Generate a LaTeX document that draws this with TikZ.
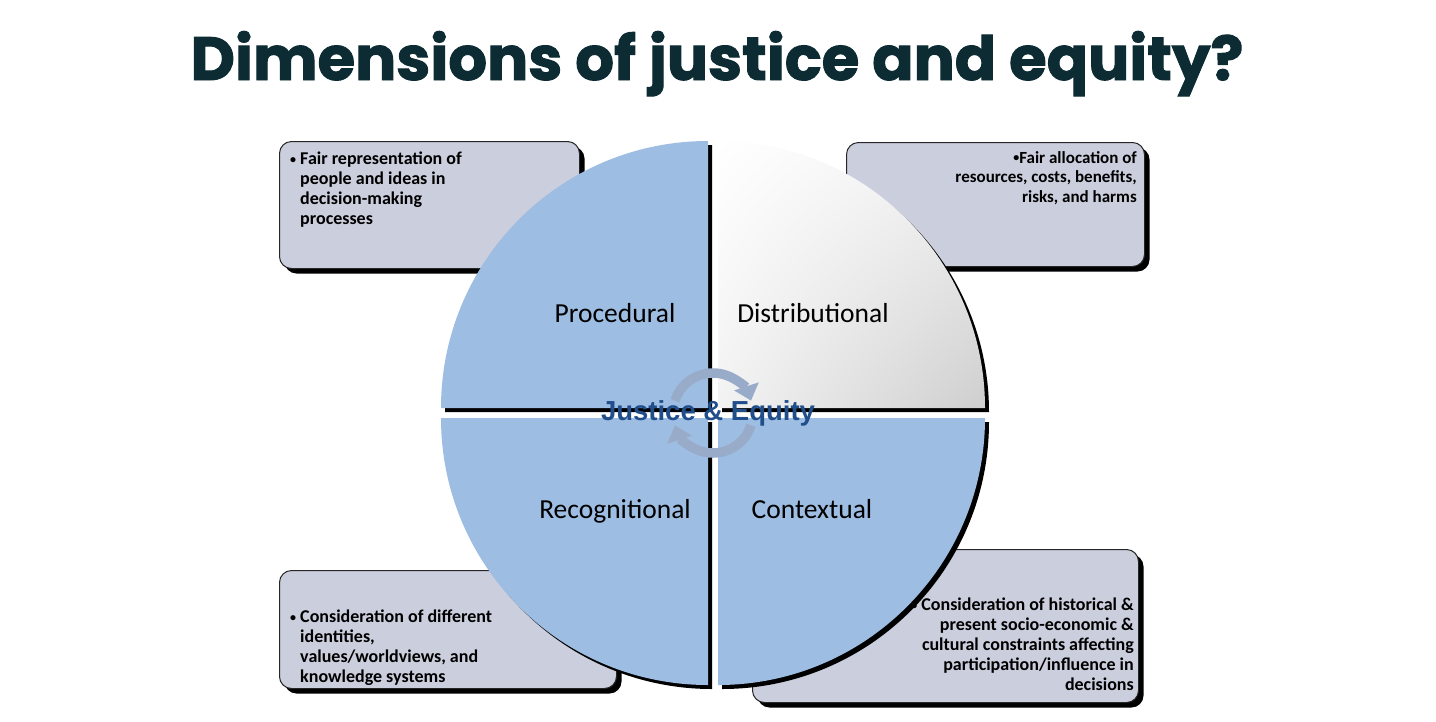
\documentclass[tikz,border=0pt]{standalone}
\usepackage{fontspec}
\setmainfont{Carlito}
\newfontfamily\titlefont{Poppins}[BoldFeatures={FakeBold=1.6}]
\newfontfamily\hubfont{Liberation Sans}
\usetikzlibrary{positioning,arrows.meta,shadows,shadings}
\definecolor{TitleInk}{RGB}{12,43,51}
\definecolor{QuartBlue}{RGB}{157,189,227}
\definecolor{BoxFill}{RGB}{203,206,221}
\definecolor{HubBlue}{RGB}{31,78,138}
\definecolor{LoopGray}{RGB}{152,171,200}
\newcommand{\dimbullet}{\raisebox{1.5pt}{\fontsize{12}{12}\selectfont\textbullet}}
\tikzset{
  infobox/.style={rectangle, rounded corners=12pt, draw=black!85, line width=1pt,
    fill=BoxFill, inner sep=0pt,
    drop shadow={shadow xshift=5pt, shadow yshift=-5pt, fill=black, opacity=1}},
  boxtext/.style={inner sep=0pt, font=\fontsize{18}{20}\selectfont\bfseries},
  quart/.style={preaction={fill=black, transform canvas={shift={(4pt,-4pt)}}}},
  dimlabel/.style={inner sep=0pt, anchor=base, font=\fontsize{27.5}{30}\selectfont},
  loop/.style={-{Triangle[length=15pt, width=25pt]}, line width=9.5pt, draw=LoopGray}
}

\begin{document}
\begin{tikzpicture}[x=1pt, y=-1pt]
  \useasboundingbox (0,0) rectangle (1436,721);
  \node[anchor=base, text=TitleInk, font=\titlefont\bfseries\fontsize{61}{66}\selectfont] (title) at (717,80) {Dimensions of justice and equity?};

  % boxes behind the circle
  \node[infobox, minimum width=300pt, minimum height=127pt, anchor=north west] (procbox) at (279,141) {};
  \node[infobox, minimum width=298pt, minimum height=124pt, anchor=north west] (distbox) at (846,142) {};
  \node[infobox, minimum width=337pt, minimum height=118pt, anchor=north west] (recbox) at (279,570) {};
  \node[infobox, minimum width=386pt, minimum height=153pt, anchor=north west] (contbox) at (752,549) {};

  % four quarters
  \coordinate (hub) at (713,413);
  \fill[quart, QuartBlue] ([shift={(-5,-5)}]hub) -- ++(-267,0) arc[start angle=180, end angle=270, radius=267] -- cycle;
  \path[quart, upper left=white, upper right=black!5, lower left=black!5, lower right=black!19]
    ([shift={(5,-5)}]hub) -- ++(267,0) arc[start angle=0, end angle=-90, radius=267] -- cycle;
  \fill[quart, QuartBlue] ([shift={(-5,5)}]hub) -- ++(-267,0) arc[start angle=180, end angle=90, radius=267] -- cycle;
  \fill[quart, QuartBlue] ([shift={(5,5)}]hub) -- ++(267,0) arc[start angle=0, end angle=90, radius=267] -- cycle;

  % box texts
  \node[boxtext, anchor=north west, align=left] (proctext) at ([shift={(11,11)}]procbox.north west)
    {\dimbullet\ Fair representation of\\ \phantom{\dimbullet\ }people and ideas in\\
     \phantom{\dimbullet\ }decision-making\\ \phantom{\dimbullet\ }processes};
  \node[boxtext, anchor=north east, align=right, font=\fontsize{17}{19.5}\selectfont\bfseries] (disttext) at ([shift={(-8,9)}]distbox.north east)
    {\dimbullet Fair allocation of\\ resources, costs, benefits,\\ risks, and harms};
  \node[boxtext, anchor=north west, align=left] (rectext) at ([shift={(11,40)}]recbox.north west)
    {\dimbullet\ Consideration of different\\ \phantom{\dimbullet\ }identities,\\
     \phantom{\dimbullet\ }values/worldviews, and\\ \phantom{\dimbullet\ }knowledge systems};
  \node[boxtext, anchor=north east, align=right] (conttext) at ([shift={(-5,49)}]contbox.north east)
    {\dimbullet\ Consideration of historical \&\\ present socio-economic \& \\
     cultural constraints affecting\\ participation/influence in\\ decisions};

  \node[dimlabel] (proc) at (615,322) {Procedural};
  \node[dimlabel] (dist) at (813,322) {Distributional};
  \node[dimlabel] (recog) at (615,518) {Recognitional};
  \node[dimlabel] (context) at (812,518) {Contextual};

  % turning arrows at the hub
  \draw[loop] ([shift={(-162:40)}]hub) arc[start angle=-162, end angle=-18, radius=40];
  \draw[loop] ([shift={(18:40)}]hub) arc[start angle=18, end angle=162, radius=40];
  \node[anchor=base, text=HubBlue, font=\hubfont\bfseries\fontsize{27.5}{30}\selectfont] (hubtext) at (708,420) {Justice \& Equity};
\end{tikzpicture}
\end{document}
